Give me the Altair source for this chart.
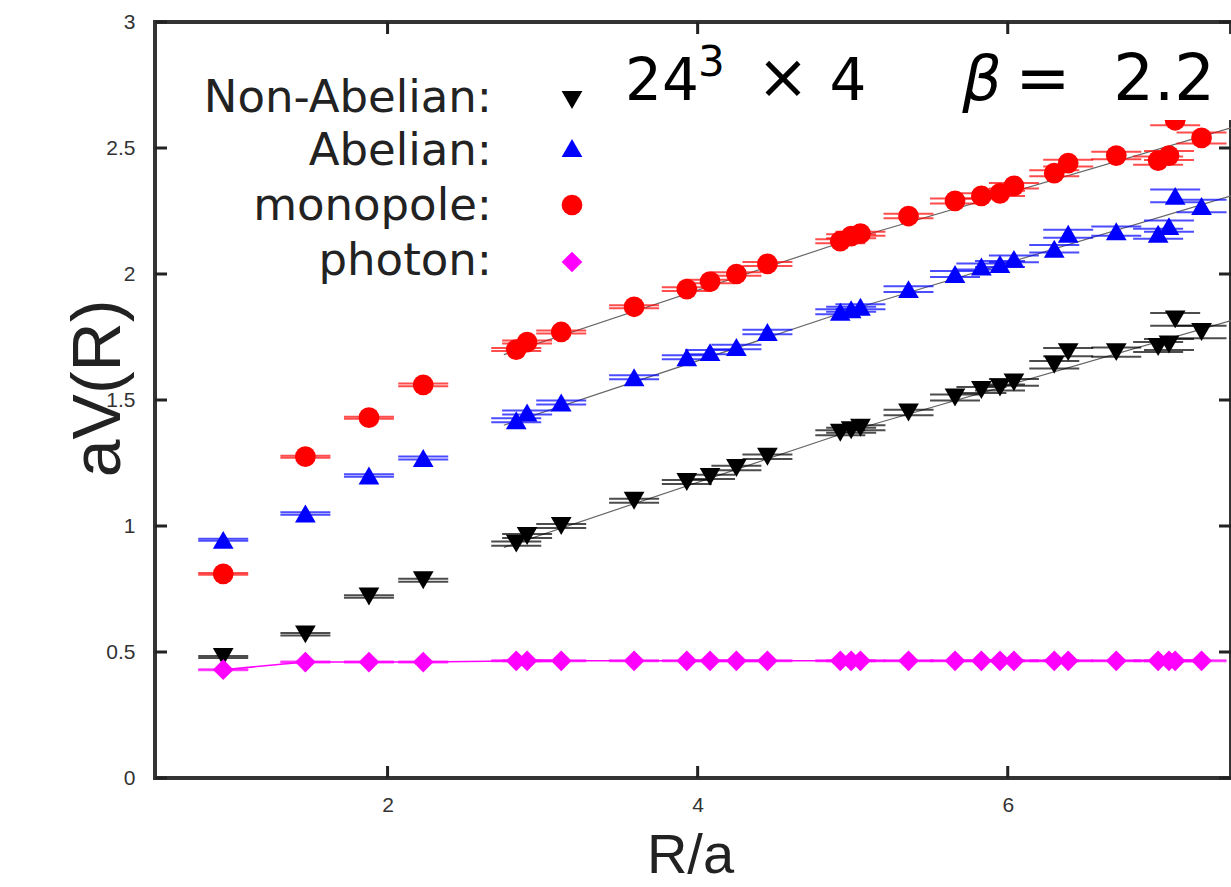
import altair as alt
import pandas as pd

# ---- data ----
series_names = ["Non-Abelian", "Abelian", "monopole", "photon"]
legend_labels = ["Non-Abelian:", "Abelian:", "monopole:", "photon:"]
colors = ["#000000", "#0000ff", "#ff0000", "#ff00ff"]
shapes = ["triangle-down", "triangle-up", "circle", "diamond"]

R = [0.94, 1.47, 1.88, 2.23, 2.83, 2.90, 3.12, 3.59, 3.93, 4.08, 4.25, 4.45, 4.92, 4.99,
     5.05, 5.36, 5.66, 5.83, 5.95, 6.04, 6.30, 6.39, 6.70, 6.97, 7.04, 7.08, 7.25]

V_nonabelian = [0.48, 0.57, 0.72, 0.785, 0.93, 0.96, 1.00, 1.10, 1.175, 1.195, 1.23, 1.275, 1.37, 1.38,
                1.39, 1.45, 1.51, 1.54, 1.55, 1.57, 1.64, 1.69, 1.69, 1.71, 1.72, 1.82, 1.77]
V_abelian = [0.945, 1.05, 1.20, 1.27, 1.42, 1.45, 1.49, 1.59, 1.67, 1.69, 1.71, 1.77, 1.85, 1.86,
             1.87, 1.94, 2.00, 2.03, 2.04, 2.06, 2.10, 2.16, 2.17, 2.16, 2.19, 2.31, 2.27]
V_monopole = [0.81, 1.275, 1.43, 1.56, 1.70, 1.73, 1.77, 1.87, 1.94, 1.97, 2.00, 2.04, 2.13, 2.15,
              2.16, 2.23, 2.29, 2.31, 2.32, 2.35, 2.40, 2.44, 2.47, 2.45, 2.47, 2.61, 2.54]
V_photon = [0.43, 0.46, 0.46, 0.46, 0.465, 0.465, 0.465, 0.465, 0.465, 0.465, 0.465, 0.465, 0.465, 0.465,
            0.465, 0.465, 0.465, 0.465, 0.465, 0.465, 0.465, 0.465, 0.465, 0.465, 0.465, 0.465, 0.465]

E_nonabelian = [0.004, 0.005, 0.005, 0.006, 0.008, 0.008, 0.008, 0.008, 0.008, 0.008, 0.009, 0.009, 0.010, 0.010,
                0.010, 0.011, 0.012, 0.012, 0.012, 0.013, 0.015, 0.016, 0.018, 0.020, 0.022, 0.025, 0.025]
E_abelian = [0.004, 0.005, 0.005, 0.006, 0.008, 0.008, 0.008, 0.008, 0.008, 0.008, 0.009, 0.009, 0.010, 0.010,
             0.010, 0.011, 0.012, 0.012, 0.012, 0.013, 0.015, 0.016, 0.018, 0.020, 0.022, 0.025, 0.025]
E_monopole = [0.003, 0.004, 0.004, 0.005, 0.006, 0.006, 0.006, 0.006, 0.007, 0.007, 0.007, 0.008, 0.008, 0.008,
              0.008, 0.009, 0.010, 0.010, 0.010, 0.011, 0.012, 0.013, 0.015, 0.016, 0.018, 0.020, 0.022]
E_photon = [0.002] * 27

fit_R = [2.75, 5.0, 7.44]
fit_nonabelian = [0.915, 1.38, 1.815]
fit_abelian = [1.40, 1.86, 2.31]
fit_monopole = [1.68, 2.14, 2.58]

y_ticks = [0, 0.5, 1, 1.5, 2, 2.5, 3]
x_ticks = [2, 4, 6]

# ---- tables ----
rows = []
for name, vals, errs in zip(series_names,
                            [V_nonabelian, V_abelian, V_monopole, V_photon],
                            [E_nonabelian, E_abelian, E_monopole, E_photon]):
    for r, v, e in zip(R, vals, errs):
        rows.append({"series": name, "R": r, "V": v, "lo": v - e, "hi": v + e})
df = pd.DataFrame(rows)

fit_rows = []
for name, vals in zip(series_names[:3], [fit_nonabelian, fit_abelian, fit_monopole]):
    for r, v in zip(fit_R, vals):
        fit_rows.append({"series": name, "R": r, "V": v})
fit_df = pd.DataFrame(fit_rows)

photon_df = df[df.series == "photon"]

W, H = 1076, 756
xscale = alt.Scale(domain=[0.5, 7.44], nice=False, zero=False)
yscale = alt.Scale(domain=[0, 3], nice=False, zero=False)
cscale = alt.Scale(domain=series_names, range=colors)
sscale = alt.Scale(domain=series_names, range=shapes)
zscale = alt.Scale(domain=series_names, range=[430, 430, 650, 430])

X = alt.X("R:Q", scale=xscale,
          axis=alt.Axis(values=x_ticks, title="R/a", grid=False, domain=False, ticks=False,
                        labelFontSize=21, labelColor="#333", labelFont="Liberation Sans",
                        labelPadding=16, titleFontSize=56, titleFont="Liberation Sans",
                        titleFontWeight="normal", titleColor="#222", titleX=535, titleY=94,
                        titleBaseline="alphabetic", titleAlign="center", format="~g"))
Y = alt.Y("V:Q", scale=yscale,
          axis=alt.Axis(values=y_ticks, title="aV(R)", grid=False, domain=False, ticks=False,
                        labelFontSize=21, labelColor="#333", labelFont="Liberation Sans",
                        labelPadding=20, titleFontSize=68, titleFont="Liberation Sans",
                        titleFontWeight="normal", titleColor="#222", titleX=-56, titleY=366,
                        titleAlign="center", titleBaseline="middle", format="~g"))

base = alt.Chart(df)

fit_lines = alt.Chart(fit_df).mark_line(color="#666", strokeWidth=1.2).encode(
    x=X, y=Y, detail="series:N")

photon_line = alt.Chart(photon_df).mark_line(color="#ff00ff", strokeWidth=1.5).encode(
    x=alt.X("R:Q", scale=xscale), y=alt.Y("V:Q", scale=yscale))

err_rule = base.mark_rule(strokeWidth=1.5).encode(
    x=alt.X("R:Q", scale=xscale), y=alt.Y("lo:Q", scale=yscale), y2="hi:Q",
    color=alt.Color("series:N", scale=cscale, legend=None))

cap_lo = base.mark_tick(orient="horizontal", size=50, thickness=2).encode(
    x=alt.X("R:Q", scale=xscale), y=alt.Y("lo:Q", scale=yscale),
    color=alt.Color("series:N", scale=cscale, legend=None))
cap_hi = base.mark_tick(orient="horizontal", size=50, thickness=2).encode(
    x=alt.X("R:Q", scale=xscale), y=alt.Y("hi:Q", scale=yscale),
    color=alt.Color("series:N", scale=cscale, legend=None))

points = base.mark_point(filled=True, opacity=1).encode(
    x=alt.X("R:Q", scale=xscale), y=alt.Y("V:Q", scale=yscale),
    color=alt.Color("series:N", scale=cscale, legend=None),
    shape=alt.Shape("series:N", scale=sscale, legend=None),
    size=alt.Size("series:N", scale=zscale, legend=None))

# white key box behind the big label (opaque as in the original)
key_box = alt.Chart(pd.DataFrame({"k": [0]})).mark_rect(color="white").encode(
    x=alt.value(448), x2=alt.value(W), y=alt.value(12), y2=alt.value(98))

def label(txt, x, y, size=62, align="left", style="normal", baseline="alphabetic"):
    return alt.Chart(pd.DataFrame({"t": [txt]})).mark_text(
        fontSize=size, font="DejaVu Sans", align=align, baseline=baseline,
        fontStyle=style, color="#000").encode(
        text="t:N", x=alt.value(x), y=alt.value(y))

big = [
    label("24", 470, 78, size=58),
    label("3", 543, 54, size=42),
    label("×", 628, 76, align="center"),
    label("4", 693, 78, align="center", size=58),
    label("β", 827, 78, align="center", style="italic"),
    label("=", 888, 78, align="center", size=66),
    label("2.2", 1060, 78, align="right", size=64),
]

legend_df = pd.DataFrame({"series": series_names, "label": legend_labels,
                          "ty": [76, 129, 184, 239], "sy": [78, 126, 183, 240]})
legend_text = alt.Chart(legend_df).mark_text(
    fontSize=45, font="DejaVu Sans", align="right", baseline="middle", color="#222").encode(
    text="label:N", x=alt.value(337), y=alt.Y("ty:Q", scale=None))
legend_sym = alt.Chart(legend_df).mark_point(filled=True, opacity=1).encode(
    x=alt.value(417), y=alt.Y("sy:Q", scale=None),
    color=alt.Color("series:N", scale=cscale, legend=None),
    shape=alt.Shape("series:N", scale=sscale, legend=None),
    size=alt.Size("series:N", scale=alt.Scale(domain=series_names, range=[300, 300, 480, 300]), legend=None))

# inward ticks on all four sides
yt = pd.DataFrame({"v": y_ticks})
xt = pd.DataFrame({"v": x_ticks})
tick_style = dict(color="#222", strokeWidth=3)
yt_left = alt.Chart(yt).mark_rule(**tick_style).encode(
    y=alt.Y("v:Q", scale=yscale), x=alt.value(0), x2=alt.value(12))
yt_right = alt.Chart(yt).mark_rule(**tick_style).encode(
    y=alt.Y("v:Q", scale=yscale), x=alt.value(W - 12), x2=alt.value(W))
xt_bottom = alt.Chart(xt).mark_rule(**tick_style).encode(
    x=alt.X("v:Q", scale=xscale), y=alt.value(H), y2=alt.value(H - 12))
xt_top = alt.Chart(xt).mark_rule(**tick_style).encode(
    x=alt.X("v:Q", scale=xscale), y=alt.value(0), y2=alt.value(12))

axes_carrier = alt.Chart(df).mark_point(opacity=0).encode(x=X, y=Y)

chart = alt.layer(
    axes_carrier, fit_lines, photon_line, err_rule, cap_lo, cap_hi, points,
    key_box, *big, legend_text, legend_sym,
    yt_left, yt_right, xt_bottom, xt_top,
).properties(
    width=W, height=H,
    autosize=alt.AutoSizeParams(type="none"),
    padding={"left": 155, "top": 22, "right": 0, "bottom": 109},
    background="white",
).configure_view(stroke="#333", strokeWidth=4).resolve_scale(y="shared")

chart.save("out.html", embed_options={"renderer": "svg", "actions": False})
